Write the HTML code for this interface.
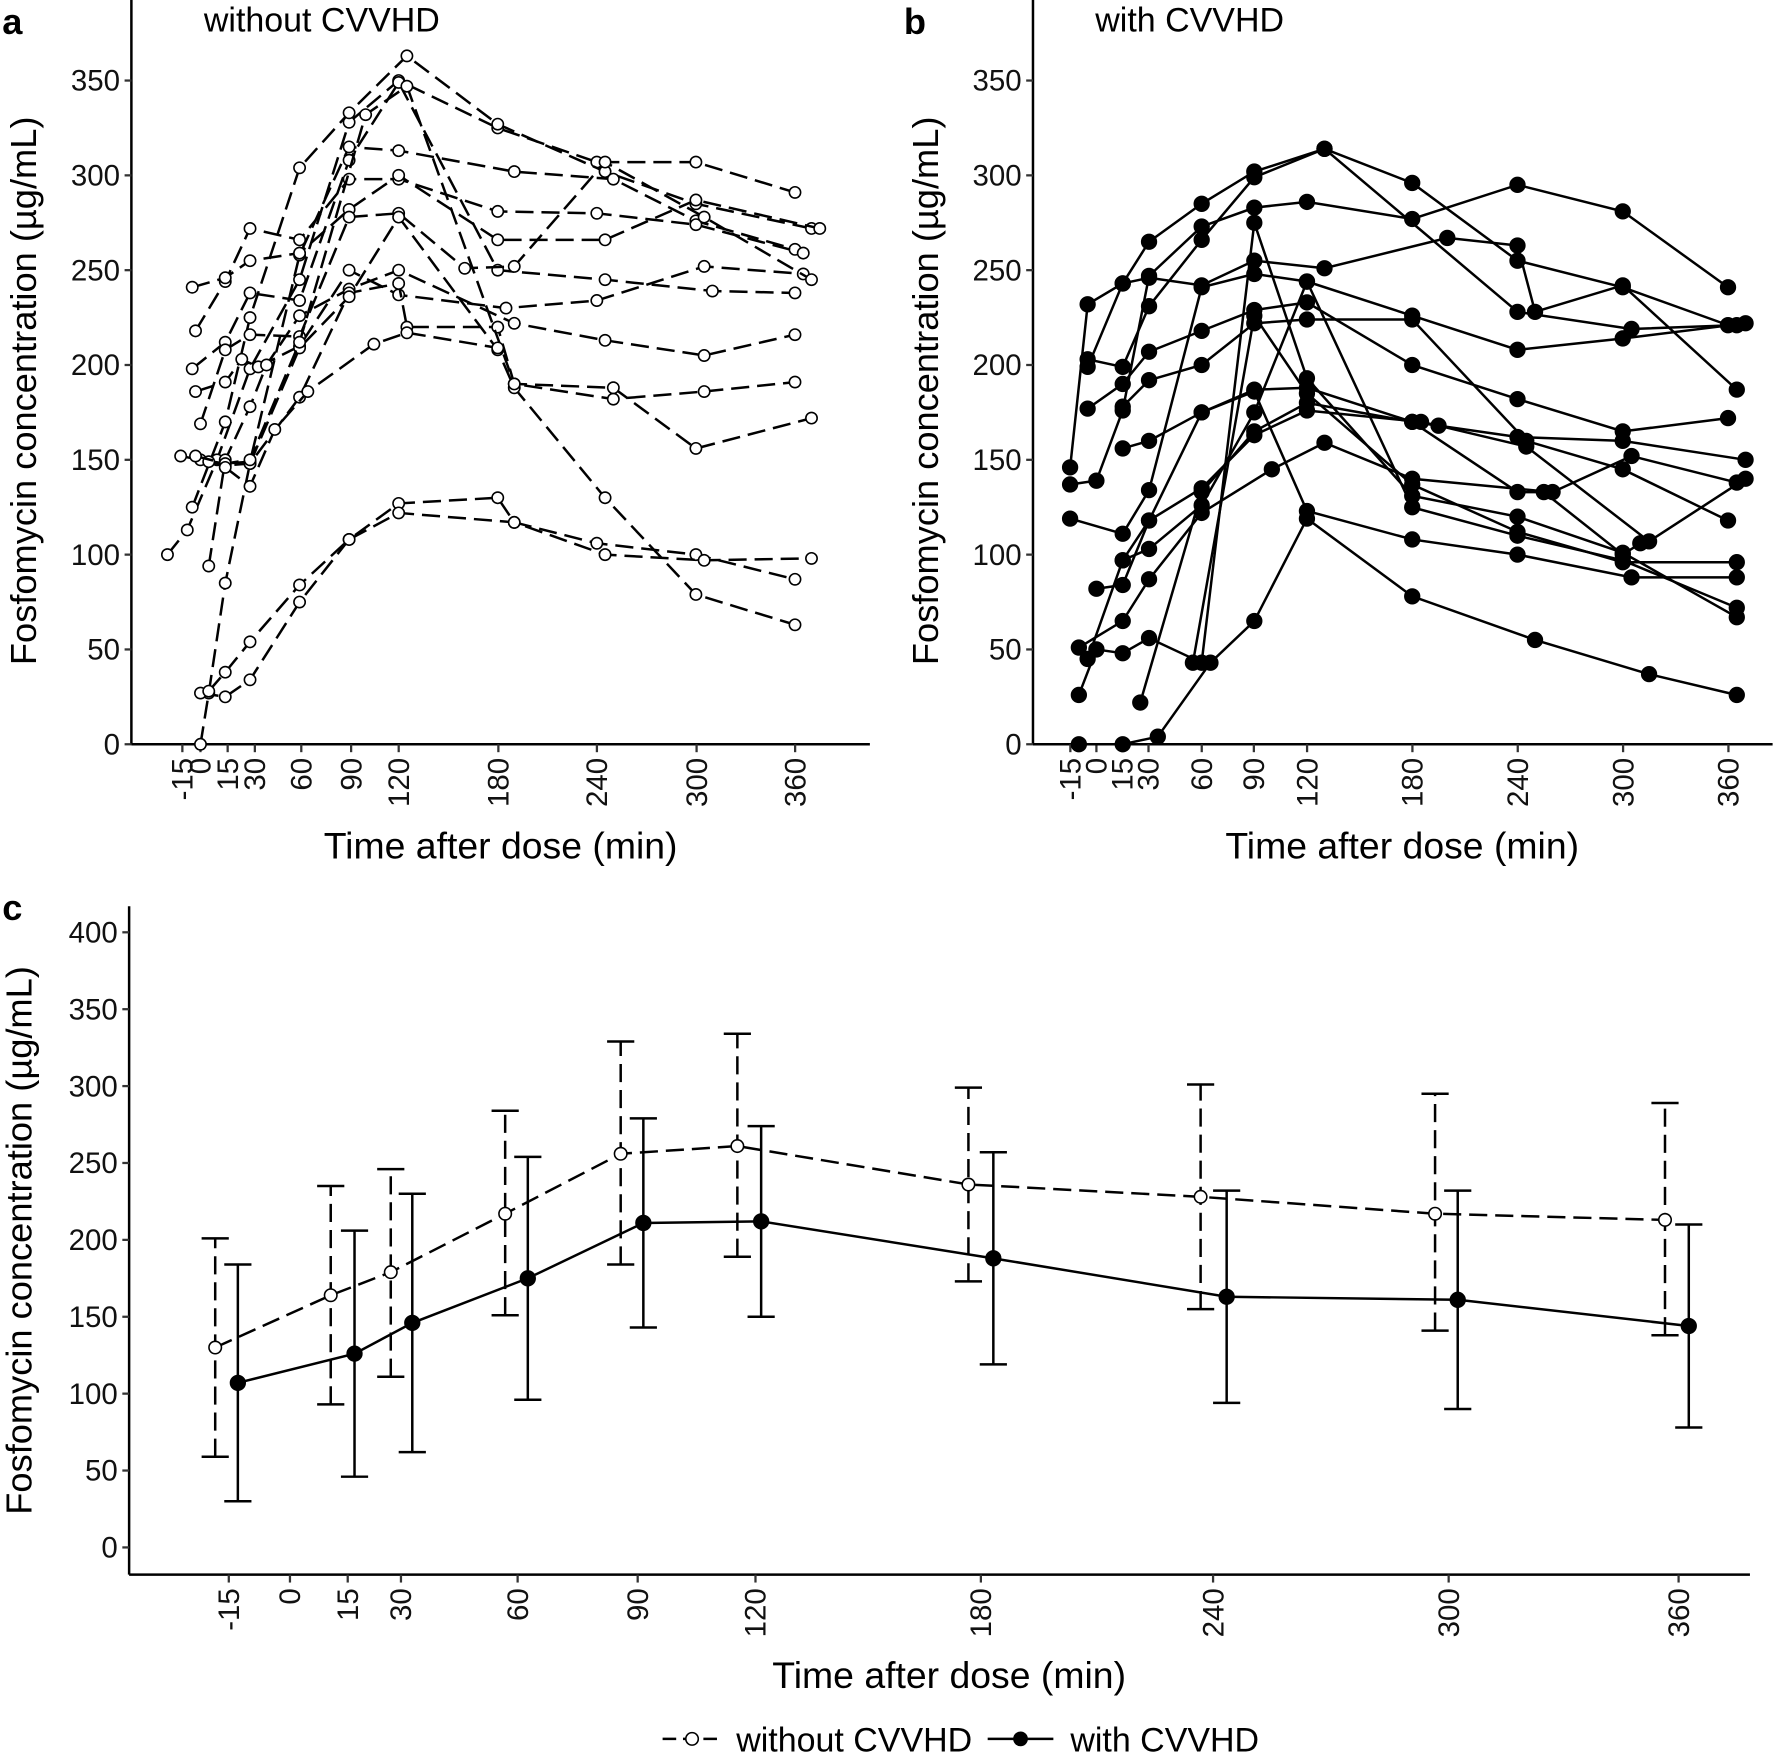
<!DOCTYPE html>
<html><head><meta charset="utf-8"><style>
html,body{margin:0;padding:0;background:#fff;}
svg{display:block;font-family:"Liberation Sans",Arial,sans-serif;}
</style></head><body>
<svg id="s" width="1776" height="1757" viewBox="0 0 1568 1551" preserveAspectRatio="none" xmlns="http://www.w3.org/2000/svg">
<rect width="1568" height="1551" fill="#fff"/>
<g id="g"></g>
</svg>
<script>
const NS="http://www.w3.org/2000/svg";const G=document.getElementById('g');
function el(t,a,txt){const e=document.createElementNS(NS,t);for(const k in a)e.setAttribute(k,a[k]);if(txt!==undefined)e.textContent=txt;G.appendChild(e);return e;}
function panel(o){
 el('line',{x1:o.x0,y1:o.ytop,x2:o.x0,y2:o.yaxis,stroke:'#000','stroke-width':2.2});
 el('line',{x1:o.x0,y1:o.yaxis,x2:o.x1,y2:o.yaxis,stroke:'#000','stroke-width':2.2});
 o.yt.forEach(v=>{const y=o.Y(v);el('line',{x1:o.x0-6,y1:y,x2:o.x0,y2:y,stroke:'#333','stroke-width':2});
  el('text',{x:o.x0-10,y:y+9,'text-anchor':'end','font-size':26,fill:'#111'},String(v));});
 o.xt.forEach(([t,px])=>{el('line',{x1:px,y1:o.yaxis,x2:px,y2:o.yaxis+7,stroke:'#333','stroke-width':2});
  el('text',{x:0,y:0,transform:`translate(${px+9},${o.yaxis+12}) rotate(-90)`,'text-anchor':'end','font-size':26,fill:'#111'},String(t));});
 el('text',{x:o.xlab,y:o.xlaby,'text-anchor':'middle','font-size':33,fill:'#000'},'Time after dose (min)');
 el('text',{x:0,y:0,transform:`translate(${o.ylabx},${o.ylaby}) rotate(-90)`,'text-anchor':'middle','font-size':32,fill:'#000'},'Fosfomycin concentration (µg/mL)');
}
function series(pts,X,Y,dashed,filled,r){
 const d=pts.map((p,i)=>(i?'L':'M')+X(p[0]).toFixed(1)+','+Y(p[1]).toFixed(1)).join('');
 const a={d:d,fill:'none',stroke:'#000','stroke-width':2.2};if(dashed)a['stroke-dasharray']='16,7';el('path',a);
 pts.forEach(p=>el('circle',{cx:X(p[0]),cy:Y(p[1]),r:r||(filled?6.5:5),fill:filled?'#000':'#fff',stroke:'#000','stroke-width':1.4}));
}
const Xa=t=>177+t*1.458,Ya=v=>657-v*1.674;
panel({x0:116,x1:768,ytop:0,yaxis:657,Y:Ya,yt:[0,50,100,150,200,250,300,350],
 xt:[[-15,161],[0,177],[15,201],[30,225],[60,266],[90,310],[120,352],[180,440],[240,527],[300,615],[360,702]],
 xlab:442,xlaby:758,ylabx:32,ylaby:345});
const A=[
[[-20,100],[-8,113],[10,150],[30,198],[60,245],[90,328],[120,350],[180,325],[240,307],[300,307],[360,291]],
[[-5,125],[15,170],[30,225],[60,304],[90,333],[125,363],[180,327],[245,302],[300,285],[370,272]],
[[-12,152],[0,150],[15,148],[30,149],[60,258],[90,315],[120,313],[190,302],[250,298],[300,276],[360,261]],
[[-3,218],[15,244],[30,272],[60,266],[90,298],[120,298],[180,281],[240,280],[300,274],[365,259]],
[[-5,241],[15,246],[30,255],[60,259],[90,282],[120,300],[180,266],[245,266],[300,287],[375,272]],
[[-5,198],[15,212],[30,238],[60,234],[90,308],[120,349],[180,250],[245,245],[310,239],[360,238]],
[[-3,186],[15,191],[25,203],[35,199],[60,210],[90,250],[120,237],[185,230],[240,234],[305,252],[365,248]],
[[0,169],[15,208],[30,216],[60,215],[90,278],[120,280],[160,251],[190,252],[245,307],[305,278],[370,245]],
[[5,94],[15,150],[30,178],[40,200],[60,226],[90,240],[120,250],[190,222],[245,213],[305,205],[360,216]],
[[5,149],[15,147],[30,148],[60,183],[90,238],[120,243],[125,220],[180,220],[190,190],[250,182],[305,186],[360,191]],
[[0,0],[5,27],[15,85],[30,148],[60,209],[90,236],[120,278],[180,208],[190,188],[245,130],[300,79],[360,63]],
[[0,27],[15,25],[30,34],[60,75],[90,108],[120,127],[180,130],[190,117],[240,106],[300,100],[360,87]],
[[5,28],[15,38],[30,54],[60,84],[90,108],[120,122],[190,117],[245,100],[305,97],[370,98]],
[[-3,152],[15,148],[30,150],[60,212],[100,332],[125,347],[190,190],[250,188],[300,156],[370,172]],
[[15,146],[30,136],[45,166],[65,186],[105,211],[125,217],[180,209]]];
A.forEach(s=>series(s,Xa,Ya,true,false));
el('text',{x:2,y:30,'font-size':32,'font-weight':'bold'},'a');
el('text',{x:180,y:28,'font-size':30},'without CVVHD');
const Xb=t=>968+t*1.549,Yb=Ya;
panel({x0:912,x1:1565,ytop:0,yaxis:657,Y:Yb,yt:[0,50,100,150,200,250,300,350],
 xt:[[-15,945],[0,968],[15,991],[30,1014],[60,1061],[90,1107],[120,1154],[180,1247],[240,1340],[300,1433],[360,1526]],
 xlab:1238,xlaby:758,ylabx:828,ylaby:345});
const B=[
[[-15,146],[-5,232],[15,243],[30,265],[60,285],[90,302],[130,314],[180,296],[240,255],[300,241],[360,221]],
[[-5,203],[15,199],[30,231],[60,266],[90,299],[130,314],[240,228],[305,219],[365,221]],
[[-15,137],[0,139],[15,176],[30,247],[60,273],[90,283],[120,286],[180,277],[240,295],[300,281],[360,241]],
[[-15,119],[15,111],[30,134],[60,241],[90,248],[120,244],[180,226],[240,208],[300,214],[370,222]],
[[-5,199],[15,243],[30,246],[60,242],[90,255],[130,251],[200,267],[240,263],[250,228],[300,242],[365,187]],
[[-5,177],[15,190],[30,207],[60,218],[90,229],[120,233],[180,200],[240,182],[300,165],[360,172]],
[[-5,45],[15,97],[30,118],[60,175],[90,187],[120,188],[180,170],[240,162],[300,160],[370,150]],
[[-10,26],[0,50],[15,48],[30,56],[60,43],[90,275],[120,193],[180,131],[240,120],[300,101],[365,67]],
[[-10,0],[15,0],[35,4],[65,43],[90,65],[120,119],[180,78],[250,55],[315,37],[365,26]],
[[-10,51],[15,65],[30,87],[60,122],[100,145],[130,159],[180,140],[260,133],[305,152],[365,138]],
[[0,82],[15,84],[30,118],[60,135],[90,163],[120,176],[185,170],[195,168],[245,157],[315,107],[370,140]],
[[15,97],[30,103],[60,126],[90,175],[120,244],[180,125],[240,110],[300,97],[365,72]],
[[15,178],[30,192],[60,200],[90,222],[120,224],[180,224],[245,160],[300,145],[360,118]],
[[25,22],[60,133],[90,165],[120,180],[180,170],[240,133],[255,133],[300,100],[310,106]],
[[15,156],[30,160],[60,175],[90,186],[120,123],[180,108],[240,100],[305,88],[365,88]],
[[55,43],[90,226],[120,185],[180,137],[240,112],[300,96],[365,96]]];
B.forEach(s=>series(s,Xb,Yb,false,true));
el('text',{x:798,y:30,'font-size':32,'font-weight':'bold'},'b');
el('text',{x:967,y:28,'font-size':30},'with CVVHD');
const Yc=v=>1366-v*1.3575,Xc=px=>px;
panel({x0:114,x1:1545,ytop:800,yaxis:1390,Y:Yc,yt:[0,50,100,150,200,250,300,350,400],
 xt:[[-15,202],[0,256],[15,307],[30,354],[60,457],[90,563],[120,667],[180,866],[240,1071],[300,1279],[360,1482]],
 xlab:838,xlaby:1490,ylabx:28,ylaby:1095});
el('text',{x:2,y:812,'font-size':32,'font-weight':'bold'},'c');
function errs(xs,m,lo,hi,dashed,filled){
 xs.forEach((x,i)=>{const a={x1:x,y1:Yc(lo[i]),x2:x,y2:Yc(hi[i]),stroke:'#000','stroke-width':2.2};if(dashed)a['stroke-dasharray']='16,7';el('line',a);
  [lo[i],hi[i]].forEach(v=>el('line',{x1:x-12,y1:Yc(v),x2:x+12,y2:Yc(v),stroke:'#000','stroke-width':2.2}));});
 series(xs.map((x,i)=>[x,m[i]]),Xc,Yc,dashed,filled,filled?6.5:5.5);
}
errs([190,292,345,446,548,651,855,1060,1267,1470],[130,164,179,217,256,261,236,228,217,213],
 [59,93,111,151,184,189,173,155,141,138],[201,235,246,284,329,334,299,301,295,289],true,false);
errs([210,313,364,466,568,672,877,1083,1287,1491],[107,126,146,175,211,212,188,163,161,144],
 [30,46,62,96,143,150,119,94,90,78],[184,206,230,254,279,274,257,232,232,210],false,true);
el('line',{x1:585,y1:1535,x2:637,y2:1535,stroke:'#000','stroke-width':2.2,'stroke-dasharray':'12,6'});
el('circle',{cx:611,cy:1535,r:5.5,fill:'#fff',stroke:'#000','stroke-width':1.4});
el('text',{x:650,y:1546,'font-size':30},'without CVVHD');
el('line',{x1:872,y1:1535,x2:930,y2:1535,stroke:'#000','stroke-width':2.2});
el('circle',{cx:901,cy:1535,r:6.5,fill:'#000'});
el('text',{x:945,y:1546,'font-size':30},'with CVVHD');
</script>
</body></html>
